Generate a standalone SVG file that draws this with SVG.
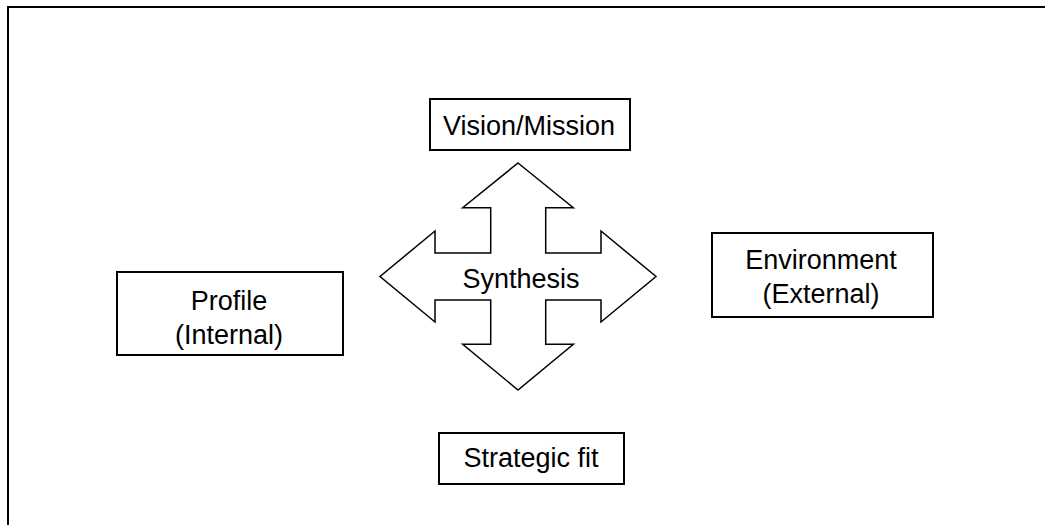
<svg xmlns="http://www.w3.org/2000/svg" width="1045" height="525" viewBox="0 0 1045 525">
<style>
.frame{fill:none;stroke:#000;stroke-width:2}
.box{fill:#fff;stroke:#000;stroke-width:2}
.arrow{fill:#fff;stroke:#000;stroke-width:1.5;stroke-linejoin:miter}
.t{font-family:"Liberation Sans",Arial,sans-serif;font-size:27px;fill:#000;text-anchor:middle}
</style>
<rect width="1045" height="525" fill="#fff"/>
<rect class="frame" x="8" y="7" width="1100" height="600"/>
<g id="connectors"></g>
<g id="synthesis">
<polygon class="arrow" points="518,163 573.3,207.7 545.7,207.7 545.7,253 601,253 601,231 656,276.5 601,322 601,300 545.7,300 545.7,344.3 573.3,344.3 518,390 462.7,344.3 490.7,344.3 490.7,300 435,300 435,322 380,276.5 435,231 435,253 490.7,253 490.7,207.7 462.7,207.7"/>
<text class="t" x="521" y="288">Synthesis</text>
</g>
<g id="vision">
<rect class="box" x="430" y="99" width="200" height="51"/>
<text class="t" x="529" y="135">Vision/Mission</text>
</g>
<g id="strategic-fit">
<rect class="box" x="439" y="433" width="185" height="51"/>
<text class="t" x="531" y="467">Strategic fit</text>
</g>
<g id="profile">
<rect class="box" x="117" y="272" width="226" height="83"/>
<text class="t" x="229" y="310">Profile</text>
<text class="t" x="229" y="344">(Internal)</text>
</g>
<g id="environment">
<rect class="box" x="712" y="233" width="221" height="84"/>
<text class="t" x="821" y="269">Environment</text>
<text class="t" x="821" y="303">(External)</text>
</g>
</svg>
